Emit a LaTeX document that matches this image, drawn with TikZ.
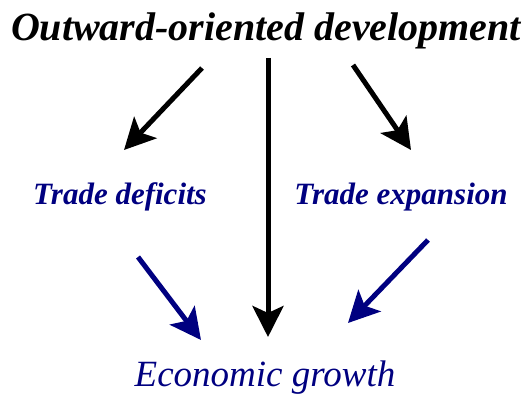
\documentclass[tikz,border=0pt]{standalone}
\usepackage{fontspec}
\setmainfont{Liberation Serif}
\usetikzlibrary{positioning,arrows.meta}
\definecolor{navyblue}{RGB}{0,0,128}
\tikzset{>=latex}

\begin{document}
\begin{tikzpicture}[x=1pt,y=-1pt]
    \tikzset{
    topic/.style={font=\fontsize{40}{44}\selectfont\bfseries\itshape, inner sep=0pt},
    factor/.style={font=\fontsize{31}{34}\selectfont\bfseries\itshape, text=navyblue, inner sep=0pt},
    result/.style={font=\fontsize{37}{40}\selectfont\itshape, text=navyblue, inner sep=0pt},
    bigarrow/.style={line width=5pt, -{Stealth[length=31pt,width=31pt,inset=7pt]}},
    }
    \useasboundingbox (0,0) rectangle (531,396);

    % Texts.
    \node [topic]  (outward)   at (266,31)  {Outward-oriented development};
    \node [factor] (deficits)  at (120,197) {Trade deficits};
    \node [factor] (expansion) at (401,197) {Trade expansion};
    \node [result] (growth)    at (265,378) {Economic growth};

    % Arrow ends.
    \coordinate (o1) at (202,68);  \coordinate (d1) at (124,150); % to deficits
    \coordinate (o2) at (268,58);  \coordinate (g2) at (268,337); % to growth
    \coordinate (o3) at (353,65);  \coordinate (e3) at (411,150); % to expansion
    \coordinate (d4) at (138,257); \coordinate (g4) at (201,340); % from deficits
    \coordinate (e5) at (428,240); \coordinate (g5) at (348,323); % from expansion

    % Arrows.
    \draw [bigarrow] (o1) -- (d1);
    \draw [bigarrow] (o2) -- (g2);
    \draw [bigarrow] (o3) -- (e3);
    \draw [bigarrow, navyblue] (d4) -- (g4);
    \draw [bigarrow, navyblue] (e5) -- (g5);
\end{tikzpicture}
\end{document}
